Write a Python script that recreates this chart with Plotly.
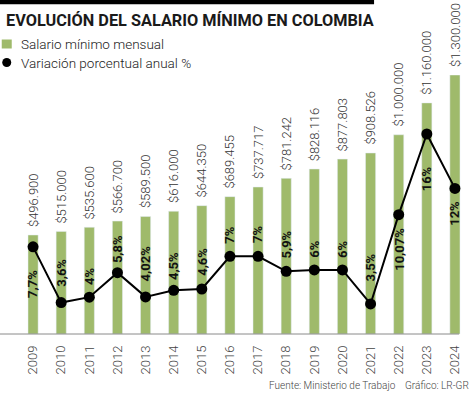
import plotly.graph_objects as go

years = [str(y) for y in range(2009, 2025)]
salario = [496900, 515000, 535600, 566700, 589500, 616000, 644350, 689455,
           737717, 781242, 828116, 877803, 908526, 1000000, 1160000, 1300000]
salario_labels = ["$496.900", "$515.000", "$535.600", "$566.700", "$589.500",
                  "$616.000", "$644.350", "$689.455", "$737.717", "$781.242",
                  "$828.116", "$877.803", "$908.526", "$1.000.000", "$1.160.000",
                  "$1.300.000"]
variacion = [7.7, 3.6, 4.0, 5.8, 4.02, 4.5, 4.6, 7.0, 7.0, 5.9, 6.0, 6.0, 3.5,
             10.07, 16.0, 12.0]
variacion_labels = ["7,7%", "3,6%", "4%", "5,8%", "4,02%", "4,5%", "4,6%", "7%",
                    "7%", "5,9%", "6%", "6%", "3,5%", "10,07%", "16%", "12%"]
# label placement style: side of the marker and gap in px
label_side = ["below", "above", "above", "above", "above", "above", "above",
              "above", "above", "above", "above", "above", "above", "below",
              "below", "below"]
label_gap = [21, 14, 10, 8, 13, 8, 11, 11, 11, 11, 10, 10, 20, 11, 30, 10]

W, H = 474, 395
L, R, T, B = 19.25, 5.15, 75, 61
PW, PH = W - L - R, H - T - B
Y2_RANGE = [1.29, 20.34]
Y2_PX = PH / (Y2_RANGE[1] - Y2_RANGE[0])

def px(p):
    return (p - L) / PW

def py(p):
    return (H - B - p) / PH

GREEN = "#9fba6b"
FONT = "Roboto"

fig = go.Figure()
fig.add_trace(go.Bar(x=years, y=salario, marker_color=GREEN, name="Salario mínimo mensual",
                     showlegend=False, cliponaxis=False, hoverinfo="skip"))
fig.add_trace(go.Scatter(x=years, y=variacion, yaxis="y2", mode="lines+markers",
                         line=dict(color="black", width=2),
                         marker=dict(color="black", size=11),
                         name="Variación porcentual anual %", showlegend=False,
                         cliponaxis=False, hoverinfo="skip"))

annotations = []
for i, (v, lab) in enumerate(zip(salario, salario_labels)):
    annotations.append(dict(x=i, y=v, xref="x", yref="y", text=lab, showarrow=False,
                            textangle=-90, xanchor="center", yanchor="bottom", yshift=6,
                            font=dict(family=FONT, size=13, color="#333333", weight=300)))
for i, (v, lab, side, gap) in enumerate(zip(variacion, variacion_labels, label_side, label_gap)):
    above = side == "above"
    ypos = v + gap / Y2_PX if above else v - gap / Y2_PX
    annotations.append(dict(x=i, y=ypos, xref="x", yref="y2", text="<b>" + lab + "</b>",
                            showarrow=False, textangle=-90, xanchor="center",
                            yanchor="bottom" if above else "top",
                            font=dict(family=FONT, size=13, color="#111111")))

annotations += [
    dict(x=px(4), y=py(21), xref="paper", yref="paper", xanchor="left", yanchor="middle",
         text="<b>EVOLUCIÓN DEL SALARIO MÍNIMO EN COLOMBIA</b>", showarrow=False,
         font=dict(family=FONT, size=16.3, color="#1a1a1a")),
    dict(x=px(19), y=py(44), xref="paper", yref="paper", xanchor="left", yanchor="middle",
         text="Salario mínimo mensual", showarrow=False,
         font=dict(family=FONT, size=13.5, color="#222222", weight=300)),
    dict(x=px(19), y=py(63), xref="paper", yref="paper", xanchor="left", yanchor="middle",
         text="Variación porcentual anual %", showarrow=False,
         font=dict(family=FONT, size=13.5, color="#222222", weight=300)),
    dict(x=px(398), y=py(385), xref="paper", yref="paper", xanchor="right", yanchor="middle",
         text="Fuente: Ministerio de Trabajo", showarrow=False,
         font=dict(family=FONT, size=10, color="#444444", weight=300)),
    dict(x=px(471), y=py(385), xref="paper", yref="paper", xanchor="right", yanchor="middle",
         text="Gráfico: LR-GR", showarrow=False,
         font=dict(family=FONT, size=10, color="#444444", weight=300)),
]

shapes = [
    dict(type="rect", xref="paper", yref="paper", x0=px(0), x1=px(374), y0=py(0), y1=py(4.3),
         fillcolor="black", line=dict(width=0)),
    dict(type="rect", xref="paper", yref="paper", x0=px(2), x1=px(12), y0=py(39.5), y1=py(48.5),
         fillcolor=GREEN, line=dict(width=0)),
    dict(type="circle", xref="paper", yref="paper", x0=px(2.5), x1=px(11.5), y0=py(58), y1=py(67),
         fillcolor="black", line=dict(width=0)),
    dict(type="line", xref="paper", yref="paper", x0=px(0), x1=px(459), y0=py(334), y1=py(334),
         line=dict(color="#8a8a8a", width=1)),
]

fig.update_layout(
    width=W, height=H,
    margin=dict(l=L, r=R, t=T, b=B, pad=0),
    paper_bgcolor="white", plot_bgcolor="white",
    bargap=0.64, showlegend=False, hovermode=False,
    xaxis=dict(type="category", range=[-0.5, 15.5], autorange=False, tickangle=-90,
               showgrid=False, showline=False, ticks="", automargin=False,
               tickfont=dict(family=FONT, size=13, color="#444444", weight=300), ticklabelstandoff=8),
    yaxis=dict(range=[0, 1300000], autorange=False, visible=False, showgrid=False),
    yaxis2=dict(range=Y2_RANGE, autorange=False, overlaying="y", visible=False, showgrid=False),
    annotations=annotations, shapes=shapes,
)

fig.write_html("out.html", config={"displayModeBar": False, "staticPlot": True},
               post_script="document.body.style.margin='0';document.body.style.overflow='hidden';")
